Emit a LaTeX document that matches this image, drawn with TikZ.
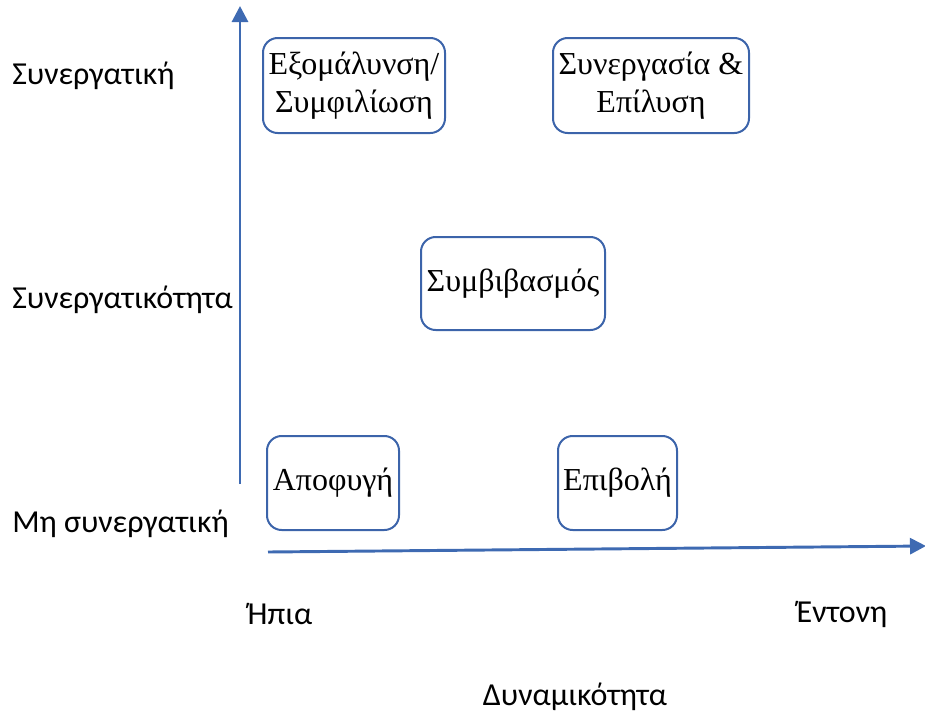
\documentclass[tikz,border=0pt]{standalone}
\usepackage{fontspec}
\setmainfont{Liberation Serif}
\newfontfamily\labelfont{Carlito}
\usetikzlibrary{arrows.meta}
\definecolor{axisblue}{RGB}{62,106,178}
\definecolor{boxblue}{RGB}{60,100,170}
\begin{document}
\begin{tikzpicture}[x=0.75pt,y=-0.75pt,
  box/.style={draw=boxblue,line width=1.5pt,rounded corners=11pt,align=center,
    font=\fontsize{24}{29}\selectfont,inner sep=0pt},
  lbl/.style={font=\labelfont\fontsize{24}{28}\selectfont,inner sep=0pt},
  axis/.style={draw=axisblue,line width=2.2pt,-{Triangle[width=12pt,length=12pt]}}]
\useasboundingbox (0,0) rectangle (925,718);
\node[box,minimum width=136.5pt,minimum height=71.25pt] (b1) at (354,85.5) {Εξομάλυνση/\\Συμφιλίωση};
\node[box,minimum width=147pt,minimum height=71.25pt] (b2) at (651,85.5) {Συνεργασία \&\\Επίλυση};
\node[box,minimum width=138pt,minimum height=69.75pt] (b3) at (513,283.5) {Συμβιβασμός};
\node[box,minimum width=99pt,minimum height=70.5pt] (b4) at (333,483) {Αποφυγή};
\node[box,minimum width=89.25pt,minimum height=70.5pt] (b5) at (617.5,483) {Επιβολή};
\coordinate (v0) at (240,484);
\coordinate (v1) at (240,6);
\coordinate (h0) at (268,552);
\coordinate (h1) at (926,546);
\draw[axis] (v0) -- (v1);
\draw[axis] (h0) -- (h1);
\node[lbl,anchor=west] (l1) at (12,76) {Συνεργατική};
\node[lbl,anchor=west] (l2) at (12,300) {Συνεργατικότητα};
\node[lbl,anchor=west] (l3) at (12,524) {Μη συνεργατική};
\node[lbl] (l4) at (280,614) {Ήπια};
\node[lbl] (l5) at (842,614) {Έντονη};
\node[lbl] (l6) at (575,697) {Δυναμικότητα};
\end{tikzpicture}
\end{document}
